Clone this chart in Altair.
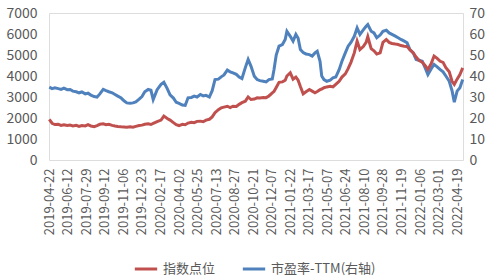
import altair as alt
import pandas as pd

# trading-day index (0 = 2019-04-22)
day_idx = [0, 5, 10, 16, 21, 26, 32, 37, 42, 48, 53, 58, 64, 69, 74, 80, 85, 90, 96, 101,
           106, 112, 117, 122, 128, 133, 138, 144, 149, 154, 160, 165, 170, 176, 181, 185, 192, 199, 204, 210,
           215, 221, 226, 231, 237, 242, 247, 253, 258, 263, 269, 274, 279, 285, 290, 295, 301, 306, 311, 317,
           322, 327, 333, 338, 343, 349, 354, 359, 365, 370, 375, 381, 386, 391, 397, 400, 404, 409, 415, 420,
           423, 429, 434, 439, 443, 447, 452, 457, 463, 468, 473, 477, 482, 485, 489, 494, 500, 505, 510, 516,
           521, 527, 532, 537, 543, 548, 553, 559, 564, 567, 573, 578, 583, 589, 594, 600, 605, 610, 616, 621,
           626, 632, 637, 642, 648, 653, 658, 664, 669, 674, 680, 685, 690, 696, 701, 706, 712, 717, 721, 726,
           731, 736]

index_points = [1930, 1750, 1690, 1700, 1650, 1680, 1640, 1660, 1620, 1650, 1600, 1640, 1620, 1680, 1620, 1590, 1640, 1700, 1720, 1680,
                1700, 1650, 1620, 1600, 1580, 1570, 1560, 1580, 1560, 1600, 1640, 1660, 1700, 1720, 1690, 1740, 1830, 1900, 2090, 1980,
                1900, 1780, 1680, 1640, 1700, 1680, 1760, 1800, 1780, 1840, 1850, 1820, 1900, 1940, 2050, 2250, 2400, 2480, 2520, 2560,
                2500, 2560, 2550, 2650, 2730, 2800, 3000, 2880, 2900, 2960, 2950, 2980, 2970, 3050, 3200, 3260, 3450, 3700, 3720, 3800,
                4000, 4150, 3850, 3950, 3800, 3500, 3150, 3250, 3360, 3280, 3200, 3260, 3350, 3380, 3440, 3480, 3510, 3480, 3600, 3750,
                3950, 4100, 4350, 4650, 5100, 5660, 5260, 5400, 5600, 5870, 5300, 5200, 5050, 5100, 5600, 5740, 5600, 5550, 5520, 5500,
                5450, 5420, 5400, 5250, 5100, 4900, 4750, 4650, 4500, 4310, 4600, 4950, 4850, 4700, 4650, 4400, 4200, 3750, 3600, 3850,
                4070, 4390]

pe_ttm = [34.7, 34.0, 34.4, 34.0, 33.6, 34.2, 33.5, 33.6, 32.8, 32.5, 32.0, 32.4, 31.5, 31.8, 30.9, 30.2, 29.9, 31.5, 33.6, 33.0,
          32.5, 32.0, 31.2, 30.4, 29.5, 28.2, 27.2, 27.0, 27.2, 27.7, 29.0, 30.2, 32.5, 33.6, 33.2, 28.8, 33.5, 36.0, 37.0, 34.0,
          31.0, 29.5, 27.5, 27.0, 26.2, 26.0, 29.6, 29.8, 30.4, 30.0, 31.2, 30.5, 30.8, 30.0, 33.0, 38.3, 38.5, 39.6, 40.5, 42.8,
          42.0, 41.5, 40.8, 39.5, 38.8, 44.0, 47.9, 44.7, 39.9, 38.3, 37.8, 37.5, 37.2, 38.3, 38.6, 43.0, 50.0, 54.2, 55.0, 57.4,
          61.3, 58.9, 56.6, 59.8, 58.0, 52.6, 51.2, 50.5, 50.2, 49.5, 51.0, 51.8, 47.0, 40.0, 38.3, 37.5, 38.0, 39.1, 39.5, 43.0,
          47.0, 51.0, 54.2, 56.0, 58.9, 62.9, 59.8, 62.0, 63.7, 64.5, 61.3, 60.5, 58.2, 59.5, 61.3, 61.8, 60.5, 59.8, 59.0, 58.2,
          57.4, 56.6, 55.8, 52.6, 51.0, 47.9, 47.5, 47.0, 44.0, 40.7, 43.5, 45.5, 44.5, 43.0, 42.0, 40.0, 37.5, 33.0, 27.5, 32.8,
          34.4, 38.3]

tick_labels = ["2019-04-22", "2019-06-12", "2019-07-29", "2019-09-12", "2019-11-06", "2019-12-23",
               "2020-02-17", "2020-04-02", "2020-05-25", "2020-07-13", "2020-08-27", "2020-10-21",
               "2020-12-07", "2021-01-22", "2021-03-17", "2021-05-07", "2021-06-24", "2021-08-10",
               "2021-09-28", "2021-11-19", "2022-01-06", "2022-03-01", "2022-04-19"]
tick_step = 33

series_names = ["指数点位", "市盈率-TTM(右轴)"]
series_colors = ["#C0504D", "#4F81BD"]

df = pd.DataFrame({
    "idx": day_idx * 2,
    "series": [series_names[0]] * len(day_idx) + [series_names[1]] * len(day_idx),
    "value": index_points + pe_ttm,
})

FONT = "Noto Sans CJK SC"
label_expr = "[" + ",".join("'%s'" % t for t in tick_labels) + "][round(datum.value / %d)]" % tick_step

x_enc = alt.X(
    "idx:Q",
    scale=alt.Scale(domain=[-0.5, 736.5], nice=False, zero=False),
    axis=alt.Axis(
        values=[i * tick_step for i in range(len(tick_labels))],
        labelExpr=label_expr,
        labelAngle=270,
        labelAlign="right",
        labelBaseline="middle",
        labelFontSize=13,
        labelColor="#595959",
        labelFont=FONT,
        labelPadding=8,
        domain=False,
        ticks=False,
        grid=False,
        title=None,
        labelOverlap=False,
    ),
)

color_enc = alt.Color(
    "series:N",
    scale=alt.Scale(domain=series_names, range=series_colors),
    legend=alt.Legend(
        title=None,
        orient="none",
        legendX=84,
        legendY=243,
        direction="horizontal",
        symbolType="stroke",
        symbolStrokeWidth=3,
        symbolSize=500,
        labelFontSize=13,
        labelFont=FONT,
        labelColor="#595959",
        columnPadding=20,
        labelOffset=4,
    ),
)

left = alt.Chart(df).transform_filter(
    alt.datum.series == series_names[0]
).mark_line(strokeWidth=3).encode(
    x=x_enc,
    y=alt.Y(
        "value:Q",
        scale=alt.Scale(domain=[0, 7000], nice=False),
        axis=alt.Axis(
            values=[0, 1000, 2000, 3000, 4000, 5000, 6000, 7000],
            format="d",
            labelFontSize=14,
            labelColor="#595959",
            labelFont=FONT,
            labelPadding=12,
            domain=False,
            ticks=False,
            gridColor="#D9D9D9",
            gridWidth=1,
            title=None,
        ),
    ),
    color=color_enc,
)

right = alt.Chart(df).transform_filter(
    alt.datum.series == series_names[1]
).mark_line(strokeWidth=3).encode(
    x=x_enc,
    y=alt.Y(
        "value:Q",
        scale=alt.Scale(domain=[0, 70], nice=False),
        axis=alt.Axis(
            orient="right",
            values=[0, 10, 20, 30, 40, 50, 60, 70],
            format="d",
            labelFontSize=14,
            labelColor="#595959",
            labelFont=FONT,
            labelPadding=6,
            domain=False,
            ticks=False,
            grid=False,
            title=None,
        ),
    ),
    color=color_enc,
)

chart = alt.layer(right, left).resolve_scale(y="independent").properties(
    width=414,
    height=147,
    autosize=alt.AutoSizeParams(type="none"),
    padding={"left": 49, "top": 13, "right": 36, "bottom": 117},
).configure_view(stroke=None).configure(background="white")

chart.save("out.html", embed_options={"renderer": "svg", "actions": False})
